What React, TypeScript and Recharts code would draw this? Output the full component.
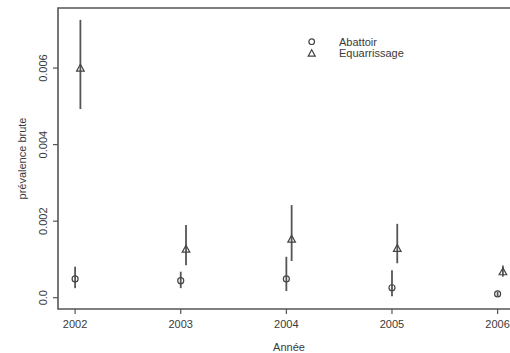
import React from 'react';
import { ScatterChart, Scatter, XAxis, YAxis, ErrorBar, ReferenceArea, Legend } from 'recharts';

const years = [2002, 2003, 2004, 2005, 2006];
const abattoir = [0.00049, 0.000445, 0.00049, 0.00026, 0.0001];
const abattoirLow = [0.00025, 0.00025, 0.000175, 0.00004, 0.00004];
const abattoirHigh = [0.00081, 0.00068, 0.00107, 0.00072, 0.00016];
const equar = [0.006, 0.00127, 0.00153, 0.00129, 0.00068];
const equarLow = [0.00493, 0.00085, 0.00096, 0.0009, 0.00055];
const equarHigh = [0.00726, 0.0019, 0.00242, 0.00193, 0.00084];
const equarOffset = 0.05;
const xTicks = [2002, 2003, 2004, 2005, 2006];
const yTicks = [0, 0.002, 0.004, 0.006];
const xDomain: [number, number] = [2001.838, 2006.212];
const yDomain: [number, number] = [-0.000295, 0.00757];

const abData = years.map((yr, i) => ({ x: yr, y: abattoir[i], err: [abattoir[i] - abattoirLow[i], abattoirHigh[i] - abattoir[i]] }));
const eqData = years.map((yr, i) => ({ x: yr + equarOffset, y: equar[i], err: [equar[i] - equarLow[i], equarHigh[i] - equar[i]] }));

const INK = '#555';
const TXT = '#3a3a3a';
const FONT = '"Liberation Sans", Arial, sans-serif';

const CircleShape = (p: any) => (
  <circle cx={p.cx} cy={p.cy} r={3} fill="none" stroke="#444" strokeWidth={1.2} />
);
const TriShape = (p: any) => {
  const s = 3.8;
  return (
    <path d={`M${p.cx},${p.cy - s} L${p.cx + s},${p.cy + s * 0.8} L${p.cx - s},${p.cy + s * 0.8} Z`} fill="none" stroke="#444" strokeWidth={1.2} />
  );
};

const XTick = (p: any) => (
  <text x={p.x} y={p.y} dy={12} textAnchor="middle" fontSize={11} fill={TXT} fontFamily={FONT}>
    {p.payload.value}
  </text>
);
const YTick = (p: any) => {
  const v = p.payload.value;
  const label = v === 0 ? '0.0' : v.toFixed(3);
  const x = p.x - 4;
  return (
    <text x={x} y={p.y} transform={`rotate(-90 ${x} ${p.y})`} textAnchor="middle" fontSize={11} fill={TXT} fontFamily={FONT}>
      {label}
    </text>
  );
};

const YLabel = (p: any) => {
  const vb = p.viewBox || { x: 0, y: 8, width: 58, height: 301 };
  const x = 26;
  const y = vb.y + vb.height / 2;
  return (
    <text x={x} y={y} transform={`rotate(-90 ${x} ${y})`} textAnchor="middle" fontSize={11} fill={TXT} fontFamily={FONT}>
      prévalence brute
    </text>
  );
};

const LegendContent = () => (
  <svg width={130} height={32} style={{ display: 'block' }}>
    <circle cx={11.7} cy={9.7} r={2.8} fill="none" stroke="#444" strokeWidth={1.2} />
    <path d="M11.7,17.8 L15.2,24.2 L8.2,24.2 Z" fill="none" stroke="#444" strokeWidth={1.2} />
    <text x={39} y={13.7} fontSize={11} fill={TXT} fontFamily={FONT}>Abattoir</text>
    <text x={39} y={25.3} fontSize={11} fill={TXT} fontFamily={FONT}>Equarrissage</text>
  </svg>
);

export default function App() {
  return (
    <div style={{ position: 'absolute', left: 0, top: 0, width: 510, height: 353, overflow: 'hidden', background: '#fff' }}>
      <ScatterChart width={520} height={353} margin={{ top: 8, right: 0, bottom: 0, left: 0 }}>
        <XAxis
          type="number"
          dataKey="x"
          domain={xDomain}
          ticks={xTicks}
          allowDataOverflow
          axisLine={false}
          tickLine={{ stroke: INK, strokeWidth: 1.2 }}
          tickSize={5}
          tickMargin={2}
          height={44}
          tick={<XTick />}
          label={{ value: 'Année', position: 'insideBottom', offset: 2, fontSize: 11, fill: TXT, fontFamily: FONT }}
        />
        <YAxis
          type="number"
          dataKey="y"
          domain={yDomain}
          ticks={yTicks}
          allowDataOverflow
          axisLine={false}
          tickLine={{ stroke: INK, strokeWidth: 1.2 }}
          tickSize={5}
          tickMargin={2}
          width={58}
          tick={<YTick />}
          label={<YLabel />}
        />
        <ReferenceArea
          x1={xDomain[0]}
          x2={xDomain[1]}
          y1={yDomain[0]}
          y2={yDomain[1]}
          fill="none"
          fillOpacity={0}
          stroke={INK}
          strokeWidth={1.6}
          ifOverflow="visible"
        />
        <Legend
          layout="vertical"
          verticalAlign="middle"
          align="center"
          content={<LegendContent />}
          wrapperStyle={{ left: 300, top: 32, width: 130, height: 32 }}
        />
        <Scatter name="Abattoir" data={abData} shape={<CircleShape />} isAnimationActive={false}>
          <ErrorBar dataKey="err" direction="y" width={0} stroke={INK} strokeWidth={1.8} isAnimationActive={false} />
        </Scatter>
        <Scatter name="Equarrissage" data={eqData} shape={<TriShape />} isAnimationActive={false}>
          <ErrorBar dataKey="err" direction="y" width={0} stroke={INK} strokeWidth={1.8} isAnimationActive={false} />
        </Scatter>
      </ScatterChart>
    </div>
  );
}
